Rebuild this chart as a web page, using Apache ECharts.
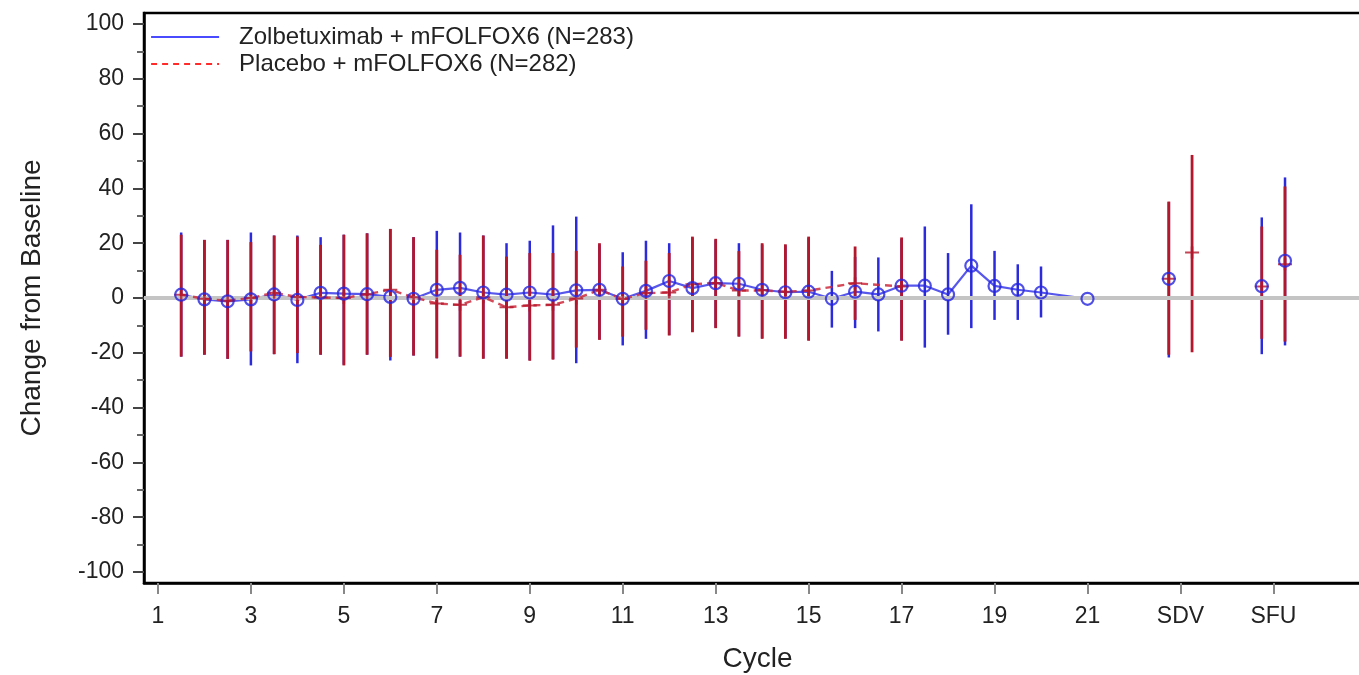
<!DOCTYPE html>
<html>
<head>
<meta charset="utf-8">
<script src="https://cdn.jsdelivr.net/npm/echarts@6/dist/echarts.min.js"></script>
<style>
html,body{margin:0;padding:0;background:#fff;}
#chart{width:1359px;height:675px;}
</style>
</head>
<body>
<div id="chart"></div>
<script>
// ---- Data ----
const zolbName = 'Zolbetuximab + mFOLFOX6 (N=283)';
const placName = 'Placebo + mFOLFOX6 (N=282)';

// Zolbetuximab: on-treatment visits (connected by the line)
const zolbX     = [1.5,2,2.5,3,3.5,4,4.5,5,5.5,6,6.5,7,7.5,8,8.5,9,9.5,10,10.5,11,11.5,12,12.5,13,13.5,14,14.5,15,15.5,16,16.5,17,17.5,18,18.5,19,19.5,20,21];
const zolbMean  = [1.2,-0.5,-1.2,-0.5,1.3,-0.7,1.9,1.6,1.4,0.4,-0.3,3.0,3.7,2.0,1.2,2.0,1.2,2.8,3.0,-0.3,2.6,6.2,3.6,5.4,5.2,3.0,2.1,2.3,-0.3,2.3,1.3,4.5,4.5,1.3,11.8,4.4,3.0,2.0,-0.3];
const zolbUpper = [23.9,21.2,21.2,23.9,22.8,22.8,22.2,23.1,23.6,25.2,22.2,24.5,23.9,22.8,20.0,20.9,26.5,29.7,19.5,16.7,20.9,20.0,22.0,21.2,20.0,19.5,19.2,22.0,9.9,15.0,14.8,21.5,26.1,16.4,34.2,17.2,12.3,11.5,null];
const zolbLower = [-21.4,-20.7,-22.2,-24.6,-20.5,-23.8,-20.7,-24.3,-20.7,-22.8,-21.0,-22.0,-21.4,-22.0,-22.0,-22.7,-22.3,-23.8,-15.0,-17.3,-14.9,-13.5,-12.3,-10.8,-14.0,-14.7,-14.7,-15.4,-10.8,-11.0,-12.2,-15.4,-18.1,-13.4,-11.0,-8.0,-8.0,-7.1,null];
// Zolbetuximab: SDV / SFU (not connected)
const zolbXExtra     = [22.75,24.75,25.25];
const zolbMeanExtra  = [7.0,4.3,13.6];
const zolbUpperExtra = [35.0,29.4,44.0];
const zolbLowerExtra = [-21.7,-20.5,-17.3];

// Placebo: on-treatment visits
const placX     = [1.5,2,2.5,3,3.5,4,4.5,5,5.5,6,6.5,7,7.5,8,8.5,9,9.5,10,10.5,11,11.5,12,12.5,13,13.5,14,14.5,15,16,17];
const placMean  = [1.2,-0.3,-1.0,0.0,1.9,0.4,0.2,0.0,1.4,3.0,0.3,-2.0,-2.5,0.3,-3.4,-2.7,-2.5,-0.2,3.0,-0.4,1.8,2.0,5.0,5.5,2.7,2.8,2.3,2.7,5.4,4.2];
const placUpper = [23.1,21.2,21.2,20.4,22.8,22.4,19.4,23.1,23.6,25.2,22.2,17.6,15.8,22.8,15.1,16.4,16.4,17.2,20.0,11.5,13.6,16.4,22.4,21.6,17.1,20.0,19.6,22.4,18.8,22.1];
const placLower = [-21.4,-20.7,-22.2,-19.5,-20.5,-20.1,-20.7,-24.6,-20.7,-21.5,-21.0,-22.0,-21.4,-22.2,-22.2,-22.9,-22.5,-18.1,-15.3,-14.1,-11.6,-13.7,-12.5,-11.0,-14.1,-14.9,-14.9,-15.6,-8.0,-15.6];
// Placebo: SDV / SFU
const placXExtra     = [22.75,23.25,24.75,25.25];
const placMeanExtra  = [7.0,16.6,4.2,12.3];
const placUpperExtra = [35.2,52.2,26.1,40.7];
const placLowerExtra = [-20.7,-19.8,-14.9,-15.9];

// Axis ticks
const xTickValues = [1,3,5,7,9,11,13,15,17,19,21,23,25];
const xTickLabels = ['1','3','5','7','9','11','13','15','17','19','21','SDV','SFU'];
const yTickValues = [-100,-80,-60,-40,-20,0,20,40,60,80,100];
const yMinorTickValues = [-90,-70,-50,-30,-10,10,30,50,70,90];

// ---- Build ----
function pts(xs, ys){ return xs.map((x,i)=>[x, ys[i]]); }
function bars(xs, lo, hi){
  const out=[];
  xs.forEach((x,i)=>{ if(lo[i]!=null && hi[i]!=null) out.push([x, lo[i], hi[i]]); });
  return out;
}
function errRender(color, width){
  return function(params, api){
    const x=api.value(0), lo=api.value(1), hi=api.value(2);
    const p1=api.coord([x,lo]), p2=api.coord([x,hi]);
    return {type:'line', shape:{x1:p1[0],y1:p1[1],x2:p2[0],y2:p2[1]},
            style:{stroke:color, lineWidth:width}};
  };
}

const BLUE='#2b2bdc', RED='#b3172c';
const FONT='"Liberation Sans", Arial, sans-serif';

const chart = echarts.init(document.getElementById('chart'), null, {renderer:'canvas'});
chart.setOption({
  animation:false,
  backgroundColor:'#fff',
  textStyle:{fontFamily:FONT},
  grid:{left:144, top:13, right:-12, bottom:92, show:true, borderColor:'#000', borderWidth:2.5,
        backgroundColor:'transparent', containLabel:false, outerBoundsMode:'none'},
  legend:{
    left:150, top:25, padding:0, orient:'vertical', itemWidth:68, itemHeight:14, itemGap:3,
    itemStyle:{opacity:0},
    textStyle:{fontSize:24, color:'#222', fontFamily:FONT, padding:[0,0,0,15]},
    data:[
      {name:zolbName, lineStyle:{color:'#4a4aff', width:2.2, opacity:1}},
      {name:placName, lineStyle:{color:'#ff2a2a', width:2.2, type:[6,5], opacity:1}}
    ]
  },
  xAxis:{
    type:'value', min:0.7, max:27.1,
    name:'Cycle', nameLocation:'middle', nameGap:62,
    nameTextStyle:{fontSize:28, color:'#222', fontFamily:FONT},
    axisLine:{show:true, onZero:false, lineStyle:{color:'#000', width:2.5}},
    axisTick:{show:true, length:11, customValues:xTickValues, lineStyle:{color:'#888', width:2}},
    axisLabel:{customValues:xTickValues, margin:22, fontSize:23, color:'#222', fontFamily:FONT,
      formatter:function(v){ const i=xTickValues.indexOf(v); return i>=0?xTickLabels[i]:''; }},
    splitLine:{show:false}
  },
  yAxis:[{
    type:'value', min:-104, max:104,
    name:'Change from Baseline', nameLocation:'middle', nameGap:98, nameRotate:90,
    nameTextStyle:{fontSize:28, color:'#222', fontFamily:FONT},
    axisLine:{show:true, onZero:false, lineStyle:{color:'#000', width:2.5}},
    axisTick:{show:true, length:11, customValues:yTickValues, lineStyle:{color:'#444', width:2}},
    axisLabel:{customValues:yTickValues, margin:20, fontSize:23, color:'#222', fontFamily:FONT},
    splitLine:{show:false}
  },{
    type:'value', min:-104, max:104, position:'left',
    axisLine:{show:false, onZero:false},
    axisTick:{show:true, length:7, customValues:yMinorTickValues, lineStyle:{color:'#666', width:2}},
    axisLabel:{show:false}, splitLine:{show:false}
  }],
  series:[
    {type:'scatter', data:[], z:1, silent:true,
     markLine:{silent:true, symbol:['none','none'], label:{show:false},
       lineStyle:{color:'#c4c4c4', width:4, type:'solid'}, data:[{yAxis:0}]}},
    {name:zolbName, type:'line', data:pts(zolbX, zolbMean), symbol:'none', z:2,
     lineStyle:{color:'#3a3ae8', width:2.2, opacity:0.85}, itemStyle:{color:'#3a3ae8'}},
    {type:'custom', renderItem:errRender(BLUE, 2.5), z:3, silent:true,
     data:bars(zolbX.concat(zolbXExtra), zolbLower.concat(zolbLowerExtra), zolbUpper.concat(zolbUpperExtra))},
    {type:'custom', renderItem:errRender(RED, 2.8), z:4, silent:true,
     data:bars(placX.concat(placXExtra), placLower.concat(placLowerExtra), placUpper.concat(placUpperExtra))},
    {name:placName, type:'line', data:pts(placX, placMean), symbol:'none', z:5,
     lineStyle:{color:'#cc2a3c', width:2.4, type:[7,5], opacity:0.85}, itemStyle:{color:'#cc2a3c'}},
    {type:'scatter', z:6, silent:true,
     data:pts(placX.concat(placXExtra), placMean.concat(placMeanExtra)),
     symbol:'path://M0,4.6L10,4.6L10,6.4L0,6.4Z M4.1,0L5.9,0L5.9,11L4.1,11Z', symbolSize:[14,12],
     itemStyle:{color:RED}},
    {type:'scatter', z:7, silent:true,
     data:pts(zolbX.concat(zolbXExtra), zolbMean.concat(zolbMeanExtra)),
     symbol:'circle', symbolSize:12,
     itemStyle:{color:'rgba(0,0,0,0)', borderColor:'#2424e0', borderWidth:2.2}}
  ]
});
</script>
</body>
</html>
